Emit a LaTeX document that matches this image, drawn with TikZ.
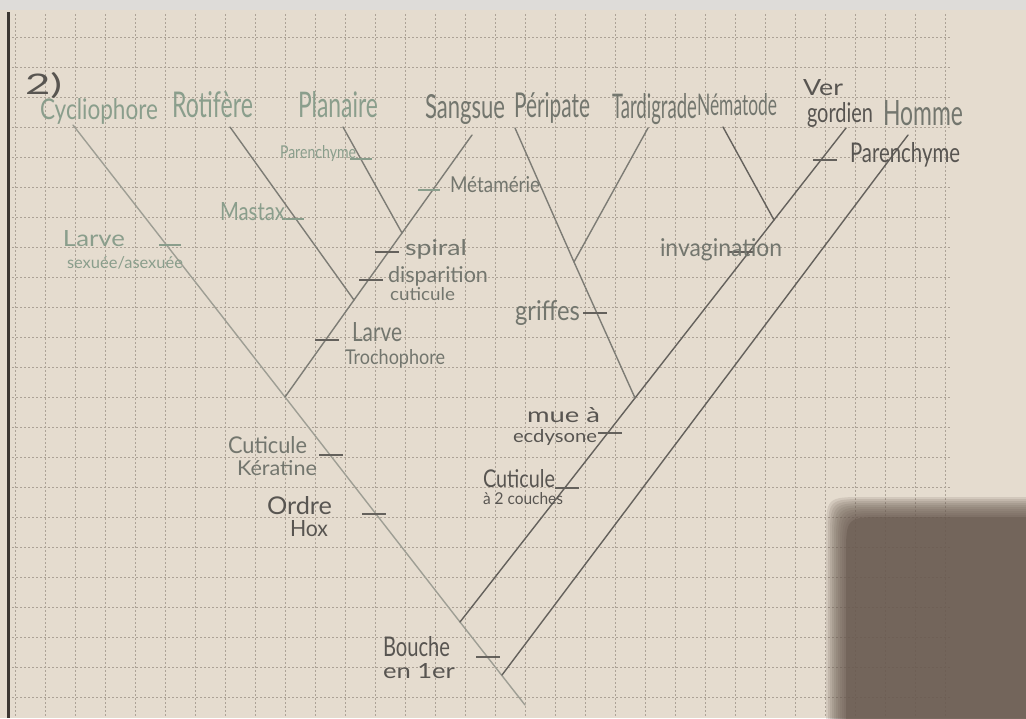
\documentclass[tikz,border=0pt]{standalone}
\usepackage{fontspec}
\setmainfont{Lato}
\usepackage{graphicx}
\definecolor{paper}{RGB}{229,220,207}
\definecolor{topband}{RGB}{222,220,217}
\definecolor{gridc}{RGB}{172,162,150}
\definecolor{edgec}{RGB}{60,55,50}
\definecolor{lightln}{RGB}{158,158,148}
\definecolor{midln}{RGB}{125,124,117}
\definecolor{darkln}{RGB}{100,97,92}
\definecolor{greentxt}{RGB}{138,158,140}
\definecolor{midtxt}{RGB}{115,118,110}
\definecolor{darktxt}{RGB}{88,85,81}
\definecolor{shadowc}{RGB}{105,90,80}
\newcommand\hw[3]{\resizebox{#1pt}{#2pt}{#3}}
\tikzset{
  lbl/.style={anchor=base west, inner sep=0pt, outer sep=0pt},
  branch/.style={line width=1.4pt, line cap=round},
  trait/.style={line width=1.6pt, darkln},
  gridline/.style={gridc, line width=0.8pt, dash pattern=on 1.5pt off 2.5pt}
}
\begin{document}
\begin{tikzpicture}[x=1pt,y=-1pt]
\useasboundingbox (0,0) rectangle (1026,718);
% paper
\fill[paper] (0,0) rectangle (1026,718);
\fill[topband] (0,0) rectangle (1026,10);
\foreach \gx in {15,45,...,945} \draw[gridline] (\gx,14) -- (\gx,718);
\foreach \gy in {37,67,...,707} \draw[gridline] (12,\gy) -- (950,\gy);
\draw[edgec, line width=3pt] (8,12) -- (8,718);
% soft shadow (only the top-left corner is rounded)
\foreach \d/\o in {0/0.15,2/0.15,4/0.15,6/0.15,8/0.15,10/0.15,12/0.15,14/0.15,16/0.15,18/0.15,20/0.5}
  \fill[shadowc, opacity=\o]
    ({826+\d},720) -- ({826+\d},{537+\d}) .. controls ({826+\d},{497+\d}) .. ({866+\d},{497+\d})
    -- (1030,{497+\d}) -- (1030,720) -- cycle;

% ---- branch points ----
\coordinate (root) at (525,705);
\coordinate (nH) at (502,675);
\coordinate (nE) at (460,622);
\coordinate (nL) at (285,397);
\coordinate (tCyc) at (73,125);
\coordinate (tHom) at (908,135);
\coordinate (tVer) at (846,128);
\coordinate (nP) at (635,398);
\coordinate (nN) at (774,220);
\coordinate (tPer) at (515,128);
\coordinate (nT) at (574,262);
\coordinate (tTar) at (648,128);
\coordinate (tNem) at (723,127);
\coordinate (tSan) at (472,135);
\coordinate (nR) at (354,300);
\coordinate (nPl) at (402,233);
\coordinate (tRot) at (230,127);
\coordinate (tPla) at (343,127);

% ---- branches ----
\draw[branch, lightln] (root) -- (nE) -- (nL) -- (tCyc);
\draw[branch, darkln] (nH) -- (tHom);
\draw[branch, darkln] (nE) -- (nP) -- (nN) -- (tVer);
\draw[branch, midln] (tPer) -- (nT) -- (nP);
\draw[branch, midln] (nT) -- (tTar);
\draw[branch, darkln] (tNem) -- (nN);
\draw[branch, midln] (nL) -- (nR) -- (nPl) -- (tSan);
\draw[branch, midln] (tRot) -- (nR);
\draw[branch, midln] (tPla) -- (nPl);

% ---- ticks ----
\coordinate (kBou) at (488,657);
\coordinate (kHox) at (374,514);
\coordinate (kKer) at (331,455);
\coordinate (kSex) at (170,245);
\coordinate (kTro) at (327,340);
\coordinate (kDis) at (371,280);
\coordinate (kSpi) at (387,252);
\coordinate (kMet) at (429,190);
\coordinate (kMas) at (293,219);
\coordinate (kPaP) at (361,159);
\coordinate (kGri) at (595,313);
\coordinate (kMue) at (610,433);
\coordinate (kCou) at (567,488);
\coordinate (kInv) at (741,252);
\coordinate (kPaH) at (825,160);
\foreach \k in {kBou,kHox,kKer,kTro,kDis,kSpi,kMue,kCou,kInv,kPaH,kGri}
  \draw[trait] ([xshift=-12pt]\k) -- ([xshift=12pt]\k);
\foreach \k in {kSex,kMet,kMas,kPaP}
  \draw[trait, greentxt] ([xshift=-11pt]\k) -- ([xshift=11pt]\k);

% ---- taxa ----
\node[lbl, darktxt] (num) at (25,94) {\hw{37}{22}{2)}};
\node[lbl, greentxt] (cyc) at (40,119) {\hw{118}{21}{Cycliophore}};
\node[lbl, greentxt] (rot) at (172,117) {\hw{81}{26}{Rotifère}};
\node[lbl, greentxt] (pla) at (298,117) {\hw{80}{26}{Planaire}};
\node[lbl, midtxt] (san) at (425,118) {\hw{80}{24}{Sangsue}};
\node[lbl, midtxt] (per) at (514,117) {\hw{76}{25}{Péripate}};
\node[lbl, midtxt] (tar) at (612,118) {\hw{85}{25}{Tardigrade}};
\node[lbl, midtxt] (nem) at (697,115) {\hw{80}{22}{Nématode}};
\node[lbl, darktxt] (ver) at (803,95) {\hw{40}{16}{Ver}};
\node[lbl, darktxt] (gor) at (807,122) {\hw{66}{20}{gordien}};
\node[lbl, midtxt] (hom) at (883,125) {\hw{80}{25}{Homme}};

% ---- characters ----
\node[lbl, greentxt] (parP) at (280,158) {\hw{76}{13}{Parenchyme}};
\node[lbl, greentxt] (mas) at (220,220) {\hw{65}{18}{Mastax}};
\node[lbl, greentxt] (lar1) at (63,246) {\hw{62}{16}{Larve}};
\node[lbl, greentxt] (sex) at (67,268) {\hw{116}{12}{sexuée/asexuée}};
\node[lbl, midtxt] (met) at (450,192) {\hw{90}{16}{Métamérie}};
\node[lbl, midtxt] (spi) at (405,255) {\hw{62}{16}{spiral}};
\node[lbl, midtxt] (dis) at (388,282) {\hw{100}{16}{disparition}};
\node[lbl, midtxt] (cut1) at (390,300) {\hw{65}{13}{cuticule}};
\node[lbl, midtxt] (lar2) at (352,341) {\hw{50}{19}{Larve}};
\node[lbl, midtxt] (tro) at (345,364) {\hw{100}{15}{Trochophore}};
\node[lbl, midtxt] (gri) at (515,320) {\hw{65}{20}{griffes}};
\node[lbl, midtxt] (inv) at (660,256) {\hw{122}{18}{invagination}};
\node[lbl, darktxt] (parH) at (850,162) {\hw{110}{20}{Parenchyme}};
\node[lbl, midtxt] (cut2) at (228,453) {\hw{79}{17}{Cuticule}};
\node[lbl, midtxt] (ker) at (237,475) {\hw{80}{15}{Kératine}};
\node[lbl, darktxt] (ord) at (267,514) {\hw{65}{18}{Ordre}};
\node[lbl, darktxt] (hox) at (290,536) {\hw{38}{16}{Hox}};
\node[lbl, darktxt] (mue) at (527,422) {\hw{73}{15}{mue à}};
\node[lbl, darktxt] (ecd) at (513,442) {\hw{84}{13}{ecdysone}};
\node[lbl, darktxt] (cut3) at (483,487) {\hw{72}{18}{Cuticule}};
\node[lbl, darktxt] (cou) at (483,504) {\hw{80}{12}{à 2 couches}};
\node[lbl, darktxt] (bou) at (383,656) {\hw{67}{20}{Bouche}};
\node[lbl, darktxt] (en) at (383,678) {\hw{72}{15}{en 1er}};
\end{tikzpicture}
\end{document}
